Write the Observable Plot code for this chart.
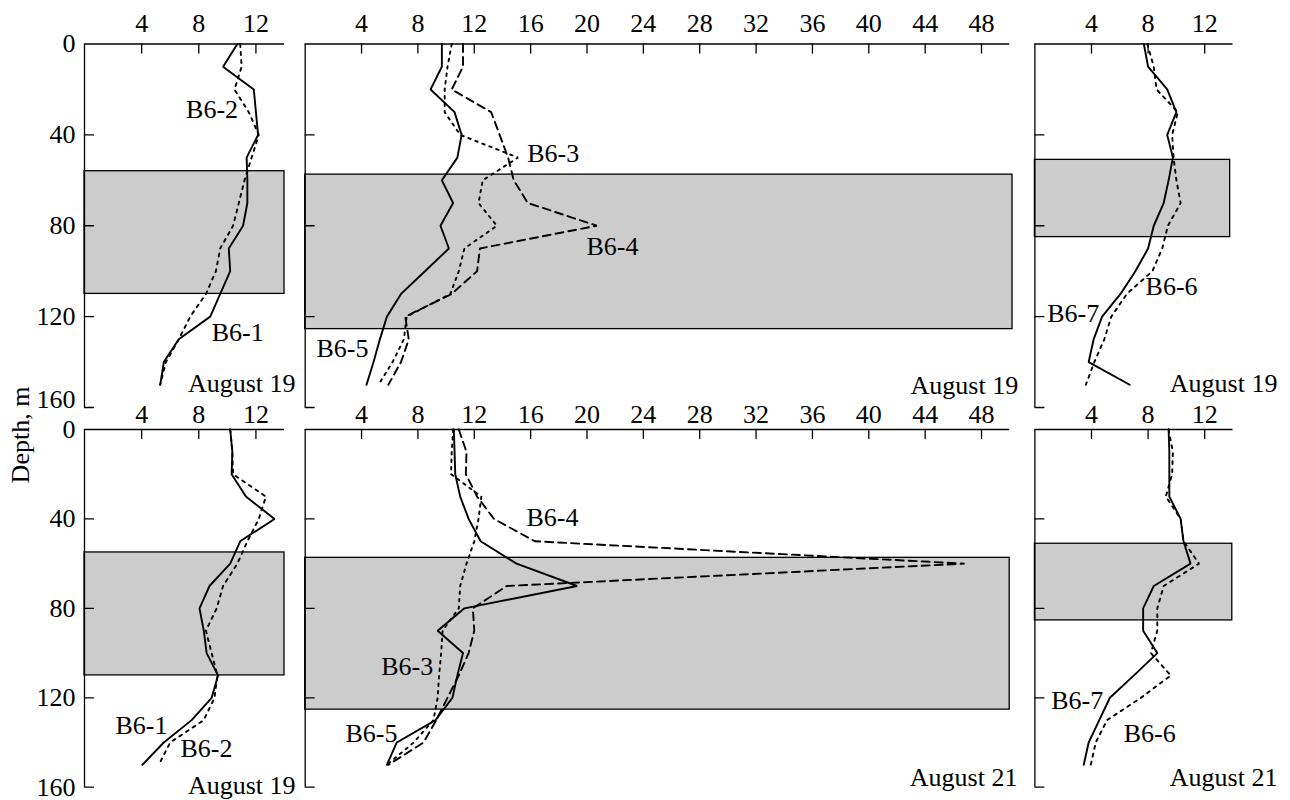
<!DOCTYPE html>
<html>
<head>
<meta charset="utf-8">
<script src="https://cdn.jsdelivr.net/npm/d3@7"></script>
<script src="https://cdn.jsdelivr.net/npm/@observablehq/plot@0.6"></script>
<style>
  body { margin: 0; background: #fff; }
  #chart { position: relative; width: 1290px; height: 800px; font-family: "Liberation Serif", "Times New Roman", serif; }
  #chart svg { position: absolute; left: 0; top: 0; }
  #ylabel { position: absolute; left: 20.5px; top: 435px; transform: translate(-50%, -50%) rotate(-90deg);
            white-space: nowrap; font-size: 26px; line-height: 1; color: #000; }
</style>
</head>
<body>
<div id="chart"><div id="ylabel">Depth, m</div></div>
<script>
// ---------- data ----------
const depths = [0, 10, 20, 30, 40, 50, 60, 70, 80, 90, 100, 110, 120, 130, 140, 150];

// top row (August 19)
const b61_top = [10.7, 9.7, 11.85, 12.0, 12.15, 11.35, 11.4, 11.4, 11.1, 10.1, 10.2, 9.5, 8.8, 6.6, 5.55, 5.3];
const b62_top = [10.9, 11.0, 10.5, 11.5, 12.2, 11.7, 11.2, 10.8, 10.4, 9.5, 9.2, 8.5, 7.4, 6.6, 5.7, 5.3];
const b65_top = [9.7, 9.7, 8.9, 10.6, 11.1, 10.8, 9.7, 10.5, 9.6, 10.2, 8.5, 6.8, 5.8, 5.3, 4.85, 4.35];
const b64_top = [11.2, 11.2, 10.4, 13.2, 13.8, 14.4, 14.8, 15.8, 20.7, 12.4, 12.2, 10.4, 7.1, 7.35, 6.8, 5.9];
const b63_top = [10.4, 10.1, 9.9, 9.9, 11.0, 15.1, 12.6, 12.3, 13.6, 11.3, 10.9, 10.3, 7.2, 7.0, 6.2, 5.2];
const b67_top = [7.7, 8.0, 9.35, 10.0, 9.35, 9.75, 9.45, 9.1, 8.4, 8.0, 7.1, 6.05, 4.75, 4.15, 3.8, 6.7];
const b66_top = [7.95, 8.4, 8.6, 10.1, 9.7, 9.8, 10.0, 10.3, 9.4, 9.0, 8.3, 6.5, 5.4, 4.9, 4.2, 3.6];

// bottom row
const b61_bot = [10.2, 10.35, 10.3, 11.3, 13.3, 10.9, 10.2, 8.75, 8.05, 8.35, 8.55, 9.35, 8.9, 7.5, 5.55, 4.05];
const b62_bot = [10.2, 10.35, 10.4, 12.7, 12.2, 11.4, 10.7, 9.7, 9.25, 8.5, 8.9, 9.3, 9.1, 8.35, 6.0, 5.2];
const b65_bot = [10.55, 10.6, 10.65, 11.0, 11.6, 12.45, 15.0, 19.3, 11.3, 9.4, 11.2, 10.8, 10.45, 9.25, 6.5, 5.8];
const b64_bot = [10.9, 11.45, 11.4, 12.2, 13.4, 16.3, 46.8, 14.3, 11.9, 12.0, 11.6, 10.9, 10.1, 9.3, 8.4, 5.9];
const b63_bot = [10.5, 10.4, 10.35, 12.5, 12.3, 12.0, 11.45, 11.0, 10.9, 9.75, 9.65, 9.5, 9.4, 9.1, 7.7, 5.8];
const b67_bot = [9.45, 9.5, 9.5, 9.5, 10.3, 10.5, 11.0, 8.4, 7.65, 7.65, 8.65, 7.0, 5.3, 4.55, 3.8, 3.45];
const b66_bot = [9.45, 9.75, 9.7, 9.25, 10.3, 10.5, 11.6, 9.1, 8.65, 8.65, 8.2, 9.6, 7.5, 5.1, 4.3, 3.95];

// tick values
const xTicksNarrow = [4, 8, 12];
const xTicksWide = [4, 8, 12, 16, 20, 24, 28, 32, 36, 40, 44, 48];
const yTickLabels = [0, 40, 80, 120, 160];
const yTickMarks = [40, 80, 120, 160];

// grey layers (depth range, m; right edge in x units)
const layerTL = {x2: 14, top: 56, bottom: 110};
const layerTM = {x2: 50.2, top: 57.5, bottom: 125.5};
const layerTR = {x2: 13.8, top: 51, bottom: 85};
const layerBL = {x2: 14, top: 55, bottom: 110};
const layerBM = {x2: 50, top: 57.4, bottom: 125.3};
const layerBR = {x2: 13.95, top: 51.1, bottom: 85.4};

// station labels
const labelsTL = [{x: 10.75, y: 29, t: "B6-2", a: "end"}, {x: 8.9, y: 127, t: "B6-1", a: "start"}];
const labelsTM = [{x: 15.76, y: 48.2, t: "B6-3", a: "start"}, {x: 19.96, y: 89.2, t: "B6-4", a: "start"}, {x: 0.8, y: 134.1, t: "B6-5", a: "start"}];
const labelsTR = [{x: 7.82, y: 106.8, t: "B6-6", a: "start"}, {x: 0.87, y: 118.7, t: "B6-7", a: "start"}];
const labelsBL = [{x: 2.17, y: 132.4, t: "B6-1", a: "start"}, {x: 6.72, y: 142.8, t: "B6-2", a: "start"}];
const labelsBM = [{x: 15.7, y: 39.5, t: "B6-4", a: "start"}, {x: 5.39, y: 106.3, t: "B6-3", a: "start"}, {x: 2.86, y: 136.1, t: "B6-5", a: "start"}];
const labelsBR = [{x: 1.15, y: 121.2, t: "B6-7", a: "start"}, {x: 6.28, y: 136.1, t: "B6-6", a: "start"}];

const dateTL = {x: 14.77, y: 149.6, t: "August 19"};
const dateTM = {x: 50.6, y: 150.4, t: "August 19"};
const dateTR = {x: 17.14, y: 149.6, t: "August 19"};
const dateBL = {x: 14.77, y: 159.2, t: "August 19"};
const dateBM = {x: 50.55, y: 155.6, t: "August 21"};
const dateBR = {x: 17.14, y: 155.6, t: "August 21"};

// ---------- drawing ----------
const FONT = 26;
const SOLID = null, DOTTED = "3,5", FINEDOT = "2.5,5", DASHED = "8,5";
const tickShape = {draw(ctx, l) { ctx.moveTo(0, 0); ctx.lineTo(0, -l); }};

function panel(o) {
  const marks = [];
  marks.push(Plot.rect([o.layer], {x1: 0, x2: "x2", y1: "top", y2: "bottom", fill: "#cccccc", stroke: "black", strokeWidth: 1.3}));
  for (const s of o.series) {
    const pts = depths.map((d, i) => ({v: s.values[i], d}));
    marks.push(Plot.line(pts, {x: "v", y: "d", stroke: "black", strokeWidth: 1.9, strokeDasharray: s.dash || undefined, strokeLinejoin: "miter"}));
  }
  marks.push(Plot.ruleY([0], {stroke: "black", strokeWidth: 1.3}));
  marks.push(Plot.ruleX([0], {stroke: "black", strokeWidth: 1.3}));
  marks.push(Plot.vector(o.xTicks, {x: d => d, y: 0, length: 9, rotate: 180, anchor: "start", shape: tickShape, stroke: "black", strokeWidth: 1.3}));
  marks.push(Plot.vector(yTickMarks, {x: 0, y: d => d, length: 9, rotate: 90, anchor: "start", shape: tickShape, stroke: "black", strokeWidth: 1.3}));
  marks.push(Plot.axisX(o.xTicks, {anchor: "top", tickSize: 0, tickPadding: o.xPad, label: null, fontSize: FONT}));
  if (o.yLabels) {
    marks.push(Plot.axisY(yTickLabels.filter(d => d !== 160), {anchor: "left", tickSize: 0, tickPadding: 9, label: null, fontSize: FONT}));
    marks.push(Plot.axisY([160], {anchor: "left", tickSize: 0, tickPadding: 9, label: null, fontSize: FONT, dy: o.last160dy}));
  }
  marks.push(Plot.text(o.labels.filter(d => d.a === "start"), {x: "x", y: "y", text: "t", textAnchor: "start", fontSize: FONT, fill: "black"}));
  marks.push(Plot.text(o.labels.filter(d => d.a === "end"), {x: "x", y: "y", text: "t", textAnchor: "end", fontSize: FONT, fill: "black"}));
  marks.push(Plot.text([o.date], {x: "x", y: "y", text: "t", textAnchor: "end", fontSize: FONT, fill: "black"}));
  return Plot.plot({
    width: 1290, height: 800,
    marginLeft: o.x0, marginRight: 1290 - o.x1, marginTop: o.y0, marginBottom: 800 - o.y1,
    x: {domain: [0, o.xMax], axis: null, label: null},
    y: {domain: [0, 160], reverse: true, axis: null, label: null},
    style: {background: "transparent", fontFamily: "'Liberation Serif', 'Times New Roman', serif", fontSize: FONT + "px", overflow: "visible", color: "black"},
    marks
  });
}

const TOP = {y0: 43.5, y1: 407, xPad: 12, last160dy: -8};
const BOT = {y0: 429, y1: 786.7, xPad: 7, last160dy: 0};
const COLS = {
  L: {x0: 84, x1: 284, xMax: 14, xTicks: xTicksNarrow},
  M: {x0: 304.7, x1: 1009.2, xMax: 50, xTicks: xTicksWide},
  R: {x0: 1034.4, x1: 1232.5, xMax: 14, xTicks: xTicksNarrow}
};

const panels = [
  {...TOP, ...COLS.L, yLabels: true, layer: layerTL, labels: labelsTL, date: dateTL,
   series: [{values: b61_top, dash: SOLID}, {values: b62_top, dash: DOTTED}]},
  {...TOP, ...COLS.M, layer: layerTM, labels: labelsTM, date: dateTM,
   series: [{values: b65_top, dash: SOLID}, {values: b64_top, dash: DASHED}, {values: b63_top, dash: FINEDOT}]},
  {...TOP, ...COLS.R, layer: layerTR, labels: labelsTR, date: dateTR,
   series: [{values: b67_top, dash: SOLID}, {values: b66_top, dash: DOTTED}]},
  {...BOT, ...COLS.L, yLabels: true, layer: layerBL, labels: labelsBL, date: dateBL,
   series: [{values: b61_bot, dash: SOLID}, {values: b62_bot, dash: DOTTED}]},
  {...BOT, ...COLS.M, layer: layerBM, labels: labelsBM, date: dateBM,
   series: [{values: b65_bot, dash: SOLID}, {values: b64_bot, dash: DASHED}, {values: b63_bot, dash: FINEDOT}]},
  {...BOT, ...COLS.R, layer: layerBR, labels: labelsBR, date: dateBR,
   series: [{values: b67_bot, dash: SOLID}, {values: b66_bot, dash: DOTTED}]}
];

const chart = document.getElementById("chart");
for (const p of panels) chart.appendChild(panel(p));
</script>
</body>
</html>
